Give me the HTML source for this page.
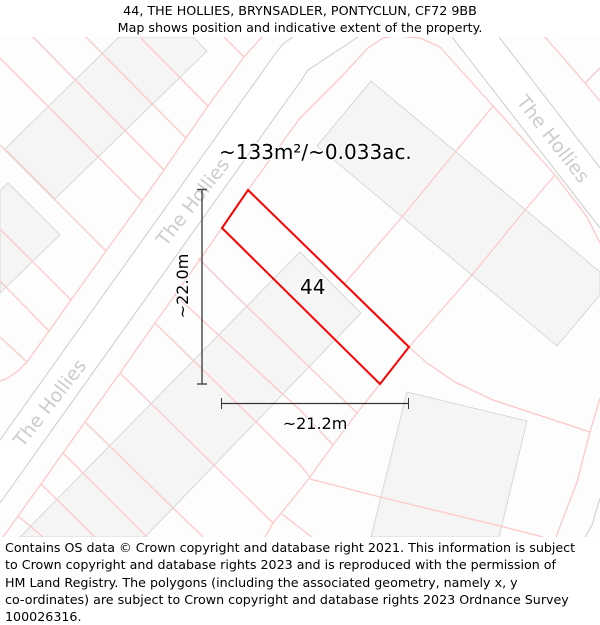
<!DOCTYPE html>
<html>
<head>
<meta charset="utf-8">
<style>
html,body{margin:0;padding:0;background:#fff;}
#page{position:relative;width:600px;height:625px;overflow:hidden;background:#fff;font-family:"DejaVu Sans","Liberation Sans",sans-serif;color:#000;}
svg{position:absolute;left:0;top:0;}
.bld{fill:#f5f5f5;stroke:#cfcfcf;stroke-width:.8;}
.rd{fill:none;stroke:#cccccc;stroke-width:1;}
.pl{fill:none;stroke:#ffc8c8;stroke-width:1.3;}
.lbl{font-family:"DejaVu Sans",sans-serif;font-size:19px;fill:#cccccc;text-anchor:middle;}
.halo{paint-order:stroke;stroke:#fff;stroke-width:2.5px;stroke-linejoin:round;}
#title{position:absolute;left:0;top:2px;width:600px;text-align:center;font-size:12.7px;line-height:17px;white-space:pre;}
#foot{position:absolute;left:5px;top:539px;width:595px;font-size:12.67px;line-height:17.3px;white-space:pre;}
</style>
</head>
<body>
<div id="page">
<div id="title">44, THE HOLLIES, BRYNSADLER, PONTYCLUN, CF72 9BB
Map shows position and indicative extent of the property.</div>
<svg width="600" height="625" viewBox="0 0 600 625">
<defs><clipPath id="mapclip"><rect x="0" y="37" width="600" height="500"/></clipPath></defs>
<g clip-path="url(#mapclip)">
<rect x="0" y="37" width="600" height="500" fill="#fdfdfd"/>
<polygon points="293,37 278,50 0,440 0,503 300,82 308,70 358,37" fill="#ffffff"/>
<polygon points="452,37 499,37 600,168 600,228" fill="#ffffff"/>
<g>
<polygon class="bld" points="5,149 119,37 193,37 207,51 55,199"/>
<polygon class="bld" points="0,191 8,183 60,235 0,293"/>
<polygon class="bld" points="371,81 600,272 600,295 557,346 317,146"/>
<polygon class="bld" points="300,252 361,313 145,537 20,537"/>
<polygon class="bld" points="407,392 527,421 499,537 371,537"/>
</g>
<g>
<polyline class="rd" points="293,37 283,44 278,50 0,440"/>
<polyline class="rd" points="358,37 308,70 300,82 0,503"/>
<polyline class="rd" points="452,37 600,228"/>
<polyline class="rd" points="499,37 600,168"/>
<polyline class="rd" points="600,498 592,525 585,537"/>
</g>
<g>
<polyline class="pl" points="262,37 244,57 208,106 186,138 164,170 142,201 106,251 71,300 49,331 27,362 18,371 8,378 0,381"/>
<polyline class="pl" points="244,57 224,37"/>
<polyline class="pl" points="208,106 140,37"/>
<polyline class="pl" points="186,138 86,37"/>
<polyline class="pl" points="164,170 33,37"/>
<polyline class="pl" points="142,201 0,58"/>
<polyline class="pl" points="106,251 0,145"/>
<polyline class="pl" points="71,300 0,229"/>
<polyline class="pl" points="49,331 0,281"/>
<polyline class="pl" points="27,362 0,337"/>
<polyline class="pl" points="3,537 18,516 41,484 63,453 85,422 120,373 155,323 175,295 222,228 248,190 300,118 340,78 368,48 383,38 395,36 420,38 440,47 493,106 555,175 587,217 600,243"/>
<polyline class="pl" points="198,258 225,285 300,358 357,413"/>
<polyline class="pl" points="175,295 300,410 333,445"/>
<polyline class="pl" points="155,323 300,465 310,477"/>
<polyline class="pl" points="120,373 273,523"/>
<polyline class="pl" points="85,422 170,505 203,537"/>
<polyline class="pl" points="63,453 147,537"/>
<polyline class="pl" points="41,484 95,537"/>
<polyline class="pl" points="18,516 43,537"/>
<polyline class="pl" points="493,106 402,217 345,283"/>
<polyline class="pl" points="555,175 525,210 472,275 409,347 380,384 357,413 333,445 310,477 300,490 273,523 265,537"/>
<polyline class="pl" points="282,514 300,528 312,537"/>
<polyline class="pl" points="310,479 380,497 500,526 543,537"/>
<polyline class="pl" points="409,347 427,363 455,382 493,400 590,432"/>
<polyline class="pl" points="600,398 590,432 577,482 556,537"/>
<polyline class="pl" points="545,37 585,83 600,101"/>
<polyline class="pl" points="585,83 600,68"/>
</g>
<text class="lbl" transform="translate(198,206) rotate(-52)">The Hollies</text>
<text class="lbl" transform="translate(55,407) rotate(-52)">The Hollies</text>
<text class="lbl" transform="translate(548,143) rotate(52)">The Hollies</text>
<polygon points="248,190 409,347 380,384 222,228" fill="none" stroke="#ff0000" stroke-width="2"/>
<g stroke="#444444" fill="none">
<line x1="202" y1="190" x2="202" y2="384" stroke-width="1.4"/>
<line x1="197" y1="189.5" x2="207" y2="189.5" stroke-width="1.4"/>
<line x1="197" y1="384" x2="207" y2="384" stroke-width="1.4"/>
</g>
<g stroke="#333333" fill="none">
<line x1="221.5" y1="403.5" x2="408.5" y2="403.5" stroke-width="1.2"/>
<line x1="221.5" y1="398" x2="221.5" y2="409" stroke-width="1"/>
<line x1="408.5" y1="398" x2="408.5" y2="409" stroke-width="1"/>
</g>
<text class="halo" x="219" y="159" font-size="20" fill="#000">~133m²/~0.033ac.</text>
<text class="halo" x="300" y="294" font-size="20" fill="#000">44</text>
<text class="halo" transform="translate(188,286) rotate(-90)" font-size="16" fill="#000" text-anchor="middle">~22.0m</text>
<text class="halo" x="315" y="429" font-size="16" fill="#000" text-anchor="middle">~21.2m</text>
</g>
</svg>
<div id="foot">Contains OS data © Crown copyright and database right 2021. This information is subject
to Crown copyright and database rights 2023 and is reproduced with the permission of
HM Land Registry. The polygons (including the associated geometry, namely x, y
co-ordinates) are subject to Crown copyright and database rights 2023 Ordnance Survey
100026316.</div>
</div>
</body>
</html>
